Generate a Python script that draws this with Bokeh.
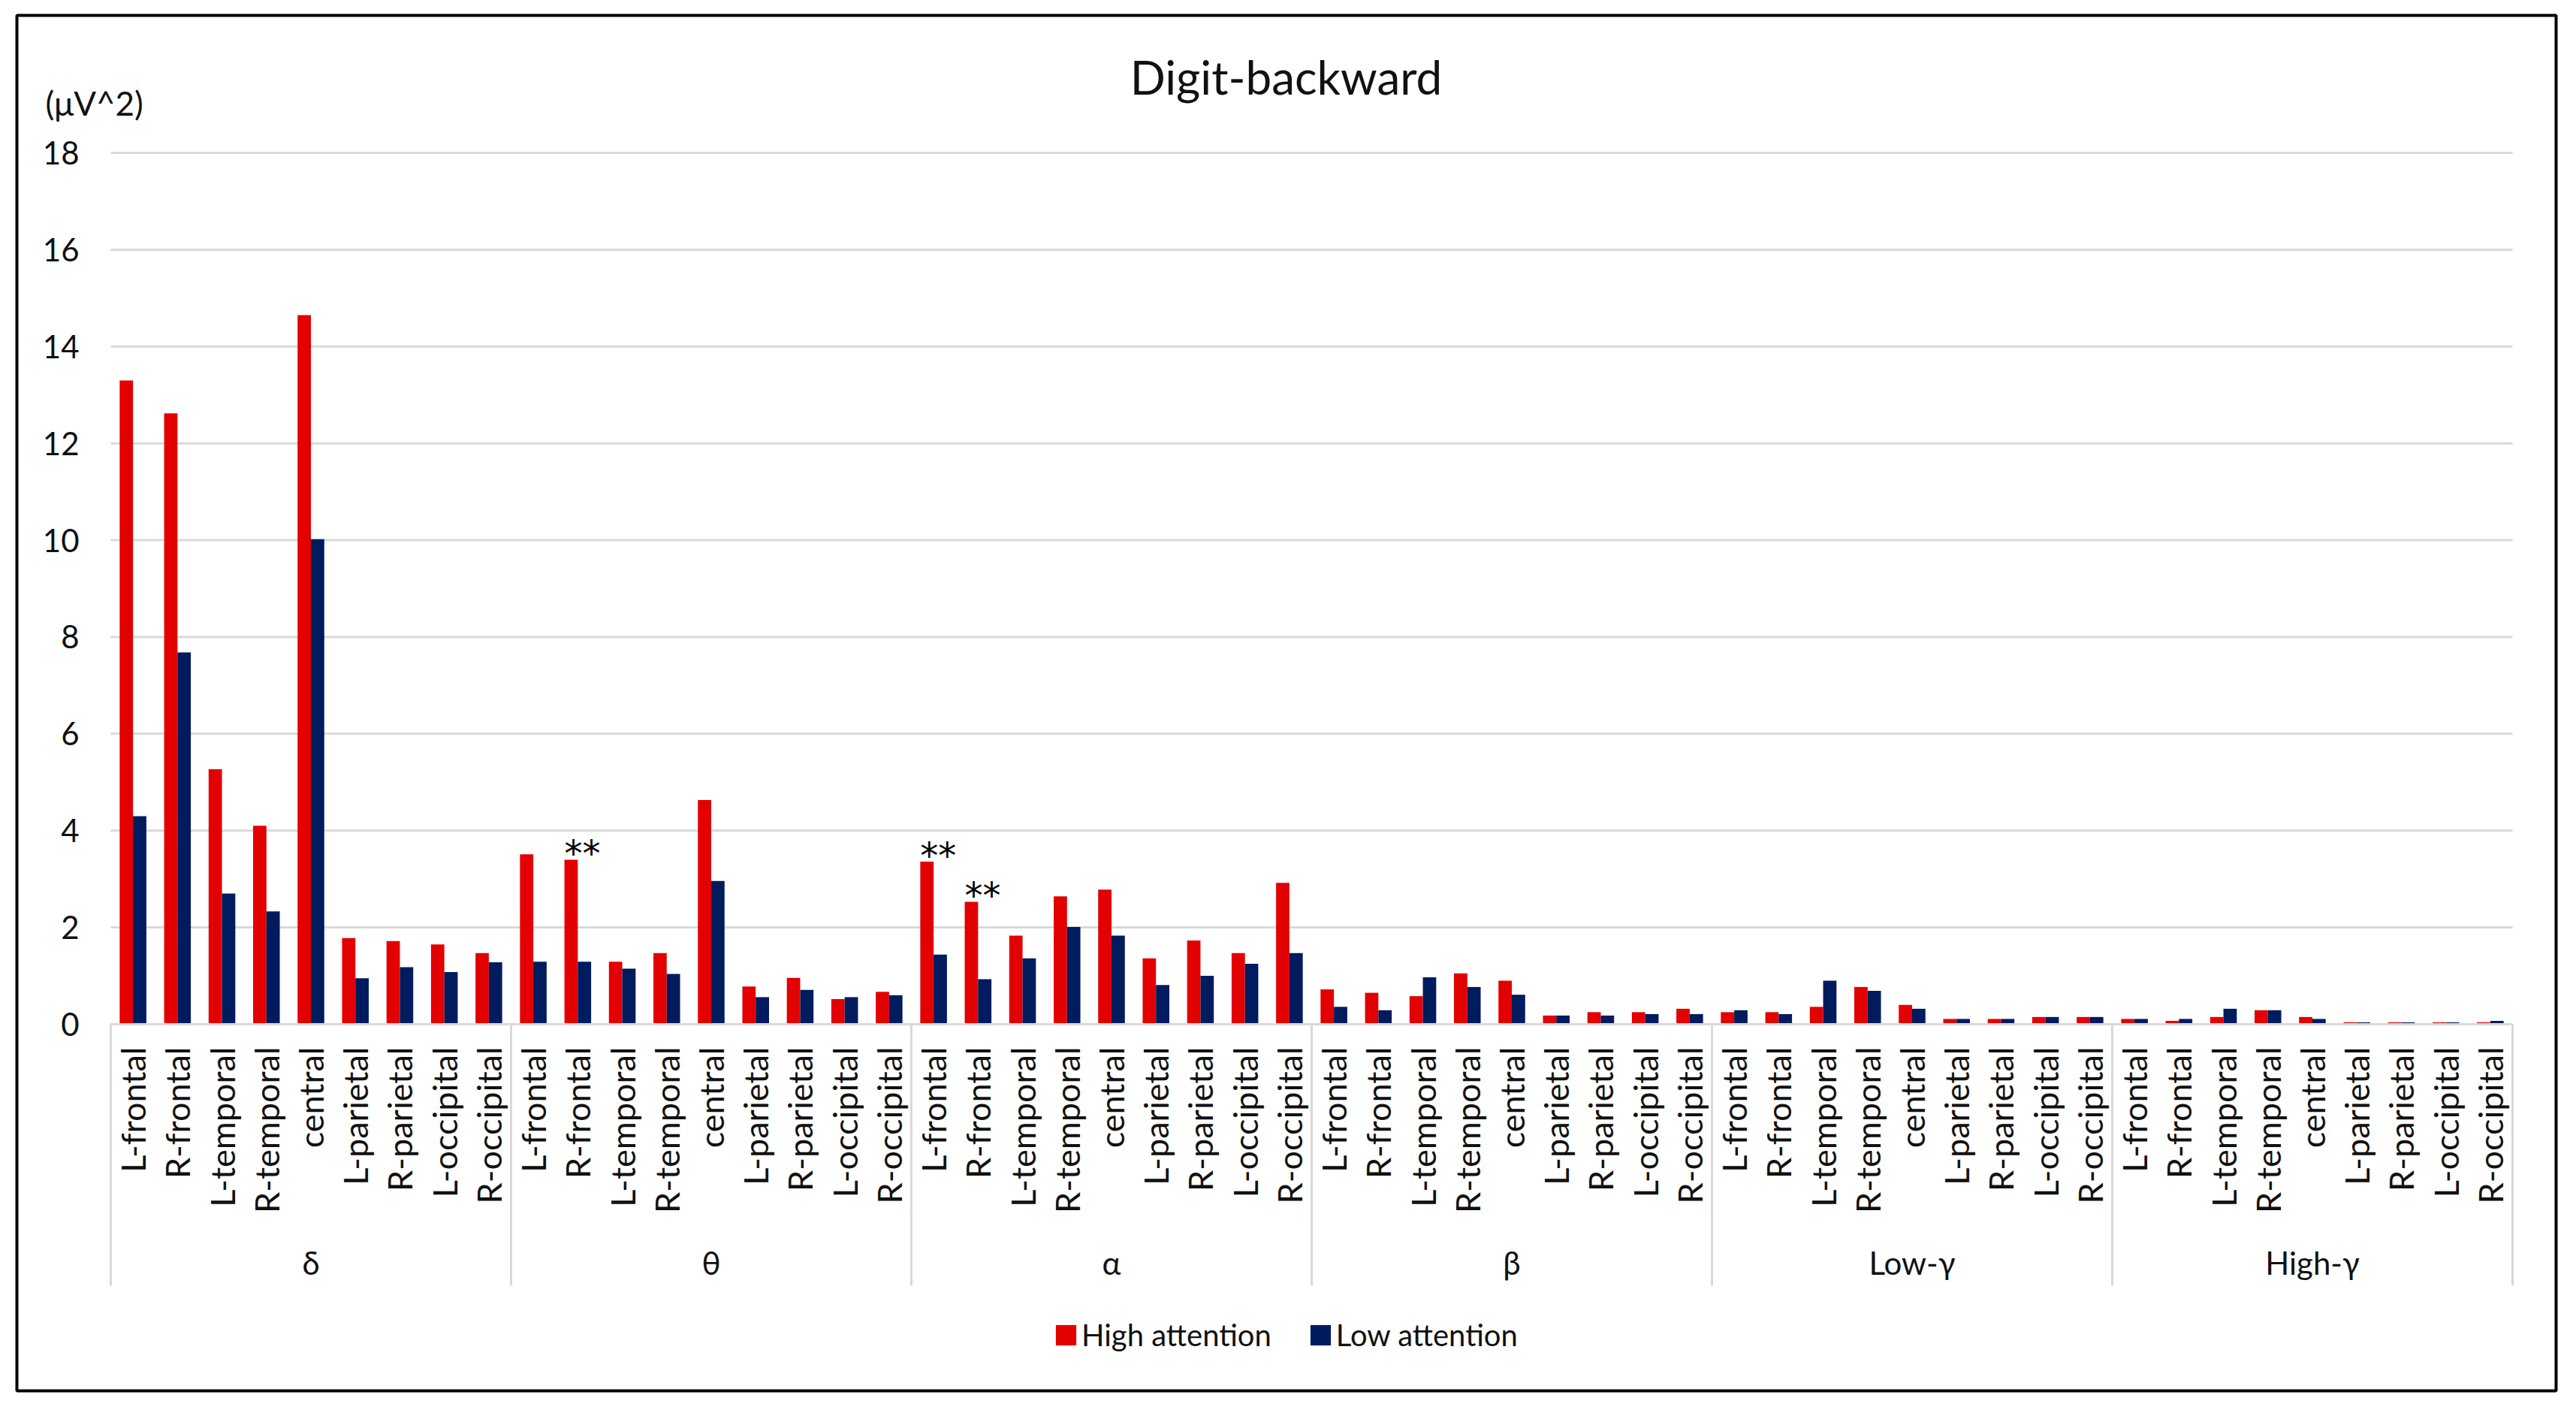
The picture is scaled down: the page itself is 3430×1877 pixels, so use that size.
import math
from bokeh.plotting import figure
from bokeh.models import (Range1d, FixedTicker, ColumnDataSource, Label, LinearAxis,
                          Legend, LegendItem, BoxAnnotation)
from bokeh.transform import dodge
from bokeh.core.properties import value
from bokeh.embed import file_html
from bokeh.resources import INLINE

# ---------------- data ----------------
bands = ["δ", "θ", "α", "β", "Low-γ", "High-γ"]
regions = ["L-frontal", "R-frontal", "L-temporal", "R-temporal", "central",
           "L-parietal", "R-parietal", "L-occipital", "R-occipital"]

high_delta = [13.30, 12.62, 5.27, 4.10, 14.65, 1.78, 1.72, 1.65, 1.47]
high_theta = [3.51, 3.40, 1.29, 1.47, 4.63, 0.78, 0.96, 0.52, 0.67]
high_alpha = [3.36, 2.53, 1.83, 2.64, 2.78, 1.36, 1.73, 1.47, 2.92]
high_beta = [0.72, 0.65, 0.58, 1.05, 0.90, 0.18, 0.25, 0.25, 0.32]
high_lowgamma = [0.25, 0.25, 0.36, 0.77, 0.40, 0.11, 0.11, 0.15, 0.15]
high_highgamma = [0.11, 0.07, 0.15, 0.29, 0.15, 0.04, 0.04, 0.04, 0.04]

low_delta = [4.30, 7.68, 2.70, 2.33, 10.02, 0.95, 1.18, 1.08, 1.28]
low_theta = [1.29, 1.29, 1.15, 1.04, 2.96, 0.56, 0.71, 0.56, 0.60]
low_alpha = [1.44, 0.93, 1.36, 2.01, 1.83, 0.81, 1.00, 1.25, 1.47]
low_beta = [0.36, 0.29, 0.97, 0.77, 0.61, 0.18, 0.18, 0.21, 0.21]
low_lowgamma = [0.29, 0.21, 0.90, 0.69, 0.32, 0.11, 0.11, 0.15, 0.15]
low_highgamma = [0.11, 0.11, 0.32, 0.29, 0.11, 0.04, 0.04, 0.04, 0.07]

y_ticks = [0, 2, 4, 6, 8, 10, 12, 14, 16, 18]

starred = [("θ", "R-frontal"), ("α", "L-frontal"), ("α", "R-frontal")]
starred_text = ["**", "**", "**"]

title_text = "Digit-backward"
unit_text = "(μV^2)"
series_names = ["High attention", "Low attention"]

# ---------------- styling / layout ----------------
FONT = "Lato"
RED = "#E30000"
NAVY = "#001B5E"
GRID = "#D9D9D9"
TEXT = "#111111"

W, H = 3414, 1861
PLOT_LEFT, PLOT_RIGHT = 147, 3345      # px of first / last category edge
Y0_PX, Y18_PX = 1363, 203              # px of value 0 / value 18
CAT_BOTTOM_PX = 1711                   # px where the category separators end

high_attention = high_delta + high_theta + high_alpha + high_beta + high_lowgamma + high_highgamma
low_attention = low_delta + low_theta + low_alpha + low_beta + low_lowgamma + low_highgamma
factors = [(b, r) for b in bands for r in regions]
n_cat = len(factors)
n_reg = len(regions)
cat_x = [i + 0.5 for i in range(n_cat)]            # category centres (scale units)

ux = (PLOT_RIGHT - PLOT_LEFT) / n_cat               # px per category
uy = (Y0_PX - Y18_PX) / y_ticks[-1]                 # px per value unit
x_range = Range1d(-PLOT_LEFT / ux, (W - PLOT_LEFT) / ux)
y_range = Range1d(-(H - Y0_PX) / uy, y_ticks[-1] + Y18_PX / uy)
y_cat_bottom = -(CAT_BOTTOM_PX - Y0_PX) / uy

p = figure(width=W, height=H, output_backend="svg", toolbar_location=None,
           x_range=x_range, y_range=y_range, min_border=0,
           x_axis_location=None, y_axis_location=None)
p.outline_line_color = None
p.background_fill_color = "white"
p.border_fill_color = "white"
p.xgrid.visible = False
p.ygrid.visible = False

# horizontal gridlines (only across the category span)
p.segment(x0=[0] * len(y_ticks), x1=[n_cat] * len(y_ticks), y0=y_ticks, y1=y_ticks,
          line_color=GRID, line_width=3)

src = ColumnDataSource(dict(x=cat_x, high=high_attention, low=low_attention))
r_high = p.vbar(x=dodge("x", -0.15), top="high", bottom=0, width=0.3,
                source=src, fill_color=RED, line_color=None)
r_low = p.vbar(x=dodge("x", 0.15), top="low", bottom=0, width=0.3,
               source=src, fill_color=NAVY, line_color=None)

# y axis
yax = LinearAxis(fixed_location=0, ticker=FixedTicker(ticks=y_ticks))
yax.axis_line_color = None
yax.major_tick_line_color = None
yax.minor_tick_line_color = None
yax.major_tick_out = 0
yax.major_tick_in = 0
yax.major_label_text_font = FONT
yax.major_label_text_font_size = "42px"
yax.major_label_text_color = TEXT
yax.major_label_standoff = 42
p.add_layout(yax, "left")

# x axis: region labels
xax = LinearAxis(fixed_location=0, ticker=FixedTicker(ticks=cat_x),
                 major_label_overrides={x: r for x, (b, r) in zip(cat_x, factors)},
                 bounds=(0, n_cat))
xax.axis_line_color = GRID
xax.axis_line_width = 3
xax.major_tick_line_color = None
xax.minor_tick_line_color = None
xax.major_tick_out = 0
xax.major_tick_in = 0
xax.major_label_orientation = math.pi / 2
xax.major_label_text_font = FONT
xax.major_label_text_font_size = "45px"
xax.major_label_text_color = TEXT
xax.major_label_standoff = 30
p.add_layout(xax, "below")

# x axis: band (group) labels
band_x = [i * n_reg + n_reg / 2 for i in range(len(bands))]
gax = LinearAxis(fixed_location=0, ticker=FixedTicker(ticks=band_x),
                 major_label_overrides={x: b for x, b in zip(band_x, bands)})
gax.axis_line_color = None
gax.major_tick_line_color = None
gax.minor_tick_line_color = None
gax.major_tick_out = 0
gax.major_tick_in = 0
gax.major_label_text_font = FONT
gax.major_label_text_font_size = "42px"
gax.major_label_text_color = TEXT
gax.major_label_standoff = 292
p.add_layout(gax, "below")

# group separators of the category axis
sep_x = [i * n_reg for i in range(len(bands) + 1)]
p.segment(x0=sep_x, x1=sep_x, y0=[0] * len(sep_x), y1=[y_cat_bottom] * len(sep_x),
          line_color=GRID, line_width=3)

# significance stars (left-aligned on the High attention bar)
star_idx = [factors.index(f) for f in starred]
star_src = ColumnDataSource(dict(x=[cat_x[i] - 0.3 for i in star_idx],
                                 y=[high_attention[i] for i in star_idx],
                                 t=starred_text))
p.text(x="x", y="y", text="t", source=star_src, text_font=value("DejaVu Sans"),
       text_font_size="48px", text_color="black", text_align="left",
       text_baseline="alphabetic", y_offset=-8)

# title and unit
p.add_layout(Label(x=1712, y=H - 101, x_units="screen", y_units="screen",
                   text=title_text, text_font=FONT, text_font_size="62px",
                   text_color=TEXT, text_align="center", text_baseline="alphabetic"))
p.add_layout(Label(x=60, y=H - 136, x_units="screen", y_units="screen",
                   text=unit_text, text_font=FONT, text_font_size="44px",
                   text_color=TEXT, text_align="left", text_baseline="alphabetic"))

# legend
legend = Legend(items=[LegendItem(label=series_names[0], renderers=[r_high]),
                       LegendItem(label=series_names[1], renderers=[r_low])],
                orientation="horizontal", location=(1402, H - 1801),
                glyph_width=34, glyph_height=34, label_standoff=4, spacing=48,
                padding=0, margin=0, border_line_color=None,
                background_fill_alpha=0, label_text_font=FONT,
                label_text_font_size="40px", label_text_color=TEXT)
p.add_layout(legend, "center")

# outer chart border
p.add_layout(BoxAnnotation(left=22, right=3403, top=H - 20, bottom=H - 1851,
                           left_units="screen", right_units="screen",
                           top_units="screen", bottom_units="screen",
                           fill_alpha=0, line_color="black", line_alpha=1.0,
                           line_width=4))

open("out.html", "w").write(file_html(p, INLINE))
